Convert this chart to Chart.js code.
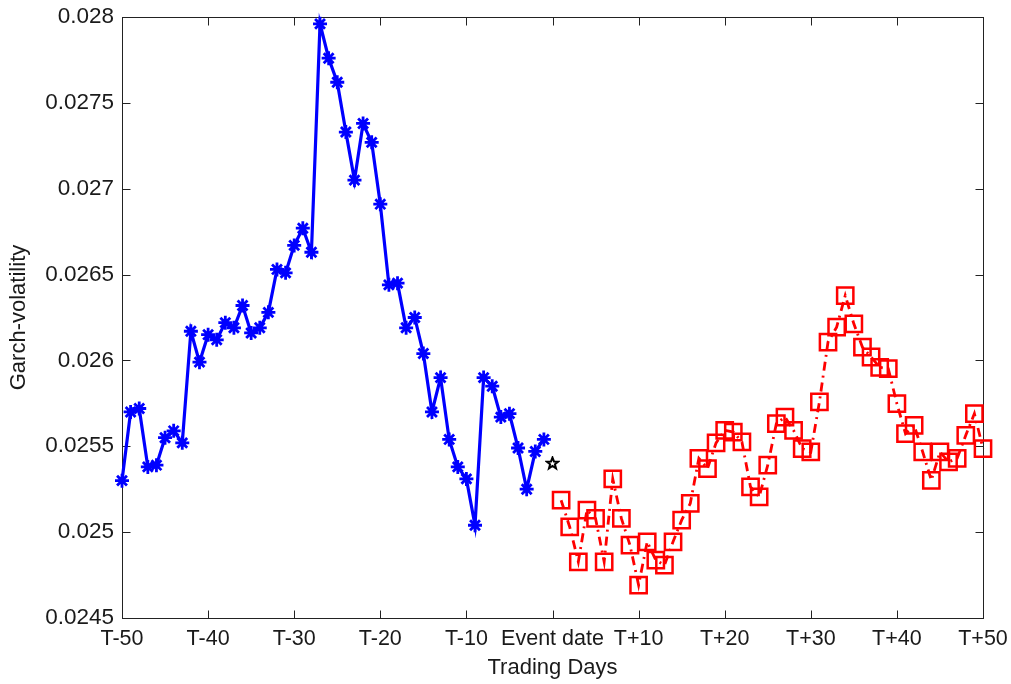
<!DOCTYPE html>
<html>
<head>
<meta charset="utf-8">
<script src="https://cdn.jsdelivr.net/npm/chart.js@4.4.1/dist/chart.umd.min.js"></script>
<style>
  body { margin: 0; background: #fff; }
  #wrap { width: 1011px; height: 684px; }
</style>
</head>
<body>
<div id="wrap"><canvas id="garch"></canvas></div>
<script>
// days before the event (T-50 .. T-1)
const preDays = [-50, -49, -48, -47, -46, -45, -44, -43, -42, -41, -40, -39, -38, -37, -36, -35, -34,
  -33, -32, -31, -30, -29, -28, -27, -26, -25, -24, -23, -22, -21, -20, -19, -18, -17, -16, -15, -14,
  -13, -12, -11, -10, -9, -8, -7, -6, -5, -4, -3, -2, -1];
const preVol = [0.02530, 0.02570, 0.02572, 0.02538, 0.02539, 0.02555, 0.02559, 0.02552, 0.02617,
  0.02599, 0.02615, 0.02612, 0.02622, 0.02619, 0.02632, 0.02616, 0.02619, 0.02628, 0.02653, 0.02651,
  0.02667, 0.02677, 0.02663, 0.02796, 0.02776, 0.02762, 0.02733, 0.02705, 0.02738, 0.02727, 0.02691,
  0.02644, 0.02645, 0.02619, 0.02625, 0.02604, 0.02570, 0.02590, 0.02554, 0.02538, 0.02531, 0.02504,
  0.02590, 0.02585, 0.02567, 0.02569, 0.02549, 0.02525, 0.02547, 0.02554];

// event date
const eventDay = [0];
const eventVol = [0.02540];

// days after the event (T+1 .. T+50)
const postDays = [1, 2, 3, 4, 5, 6, 7, 8, 9, 10, 11, 12, 13, 14, 15, 16, 17, 18, 19, 20, 21, 22, 23,
  24, 25, 26, 27, 28, 29, 30, 31, 32, 33, 34, 35, 36, 37, 38, 39, 40, 41, 42, 43, 44, 45, 46, 47, 48,
  49, 50];
const postVol = [0.025186, 0.02503, 0.024827, 0.025128, 0.02508, 0.024827, 0.02531, 0.02508, 0.024924,
  0.024692, 0.024944, 0.024837, 0.024808, 0.024944, 0.02507, 0.025167, 0.02543, 0.02537, 0.02552,
  0.025593, 0.025583, 0.025525, 0.025263, 0.025205, 0.02539, 0.025632, 0.02567, 0.025593, 0.025487,
  0.025467, 0.025758, 0.026107, 0.026194, 0.026378, 0.026213, 0.026077, 0.02602, 0.02596, 0.025952,
  0.025748, 0.025574, 0.025622, 0.025467, 0.025302, 0.025467, 0.025409, 0.02543, 0.025564, 0.02569,
  0.025487];

const xTicks = [-50, -40, -30, -20, -10, 0, 10, 20, 30, 40, 50];
const xTickLabels = ['T-50', 'T-40', 'T-30', 'T-20', 'T-10', 'Event date', 'T+10', 'T+20', 'T+30', 'T+40', 'T+50'];
const yTicks = [0.0245, 0.025, 0.0255, 0.026, 0.0265, 0.027, 0.0275, 0.028];

const FONT = "'Liberation Sans', Arial, sans-serif";
const TEXT = '#1a1a1a';

function toPoints(xs, ys) {
  return xs.map((x, i) => ({ x: x, y: ys[i] }));
}

function makePentagram(size, color) {
  const c = document.createElement('canvas');
  c.width = size;
  c.height = size;
  const g = c.getContext('2d');
  const r = size / 2 - 1.5;
  const ir = r * 0.42;
  g.beginPath();
  for (let i = 0; i < 10; i++) {
    const a = -Math.PI / 2 + i * Math.PI / 5;
    const rr = i % 2 === 0 ? r : ir;
    g.lineTo(size / 2 + rr * Math.cos(a), size / 2 + rr * Math.sin(a));
  }
  g.closePath();
  g.strokeStyle = color;
  g.lineWidth = 2;
  g.stroke();
  return c;
}

// matlab style box with inward ticks on all four sides
const boxPlugin = {
  id: 'matlabBox',
  beforeDatasetsDraw(chart) {
    const { ctx, chartArea: a, scales } = chart;
    const L = Math.round(a.left) + 0.5, R = Math.round(a.right) + 0.5;
    const T = Math.round(a.top) + 0.5, B = Math.round(a.bottom) + 0.5;
    const len = 8;
    ctx.save();
    ctx.strokeStyle = '#222';
    ctx.lineWidth = 1;
    ctx.strokeRect(L, T, R - L, B - T);
    ctx.beginPath();
    xTicks.forEach(v => {
      const px = Math.round(scales.x.getPixelForValue(v)) + 0.5;
      ctx.moveTo(px, B); ctx.lineTo(px, B - len);
      ctx.moveTo(px, T); ctx.lineTo(px, T + len);
    });
    yTicks.forEach(v => {
      const py = Math.round(scales.y.getPixelForValue(v)) + 0.5;
      ctx.moveTo(L, py); ctx.lineTo(L + len, py);
      ctx.moveTo(R, py); ctx.lineTo(R - len, py);
    });
    ctx.stroke();
    ctx.restore();
  }
};

const ctx = document.getElementById('garch');
new Chart(ctx, {
  type: 'line',
  data: {
    datasets: [
      {
        label: 'Before',
        data: toPoints(preDays, preVol),
        borderColor: '#0000ff',
        borderWidth: 3.2,
        pointStyle: 'star',
        pointRadius: 7,
        pointBorderWidth: 2.8,
        pointBorderColor: '#0000ff',
        pointBackgroundColor: '#0000ff',
        tension: 0,
        clip: false
      },
      {
        label: 'Event',
        data: toPoints(eventDay, eventVol),
        showLine: false,
        pointStyle: makePentagram(15, '#000'),
        clip: false
      },
      {
        label: 'After',
        data: toPoints(postDays, postVol),
        borderColor: '#ff0000',
        borderWidth: 2.8,
        borderDash: [9, 5, 2, 5],
        pointStyle: 'rect',
        pointRadius: 11.5,
        pointBorderWidth: 2.5,
        pointBorderColor: '#ff0000',
        pointBackgroundColor: 'rgba(0,0,0,0)',
        tension: 0,
        clip: false
      }
    ]
  },
  options: {
    responsive: true,
    maintainAspectRatio: false,
    animation: false,
    layout: { padding: { left: 0, right: 28, top: 17, bottom: 0 } },
    plugins: {
      legend: { display: false },
      tooltip: { enabled: false }
    },
    scales: {
      x: {
        type: 'linear',
        min: -50,
        max: 50,
        afterBuildTicks: s => { s.ticks = xTicks.map(v => ({ value: v })); },
        afterFit: s => {
          s.height = 66;
          s.paddingLeft = 0;
          s.paddingRight = 0;
        },
        grid: { display: false, drawTicks: false },
        border: { display: false },
        ticks: {
          autoSkip: false,
          maxRotation: 0,
          minRotation: 0,
          padding: 8,
          color: TEXT,
          font: { family: FONT, size: 21.5 },
          callback: v => xTickLabels[xTicks.indexOf(v)]
        },
        title: {
          display: true,
          text: 'Trading Days',
          color: TEXT,
          font: { family: FONT, size: 22 },
          padding: { top: 0, bottom: 3 }
        }
      },
      y: {
        min: 0.0245,
        max: 0.028,
        afterBuildTicks: s => { s.ticks = yTicks.map(v => ({ value: v })); },
        afterFit: s => {
          s.width = 122;
          s.paddingTop = 0;
          s.paddingBottom = 0;
        },
        grid: { display: false, drawTicks: false },
        border: { display: false },
        ticks: {
          padding: 8,
          color: TEXT,
          font: { family: FONT, size: 22.5 },
          callback: v => String(parseFloat(v.toFixed(4)))
        },
        title: {
          display: true,
          text: 'Garch-volatility',
          color: TEXT,
          font: { family: FONT, size: 22 },
          padding: { top: 6, bottom: 0 }
        }
      }
    }
  },
  plugins: [boxPlugin]
});
</script>
</body>
</html>
